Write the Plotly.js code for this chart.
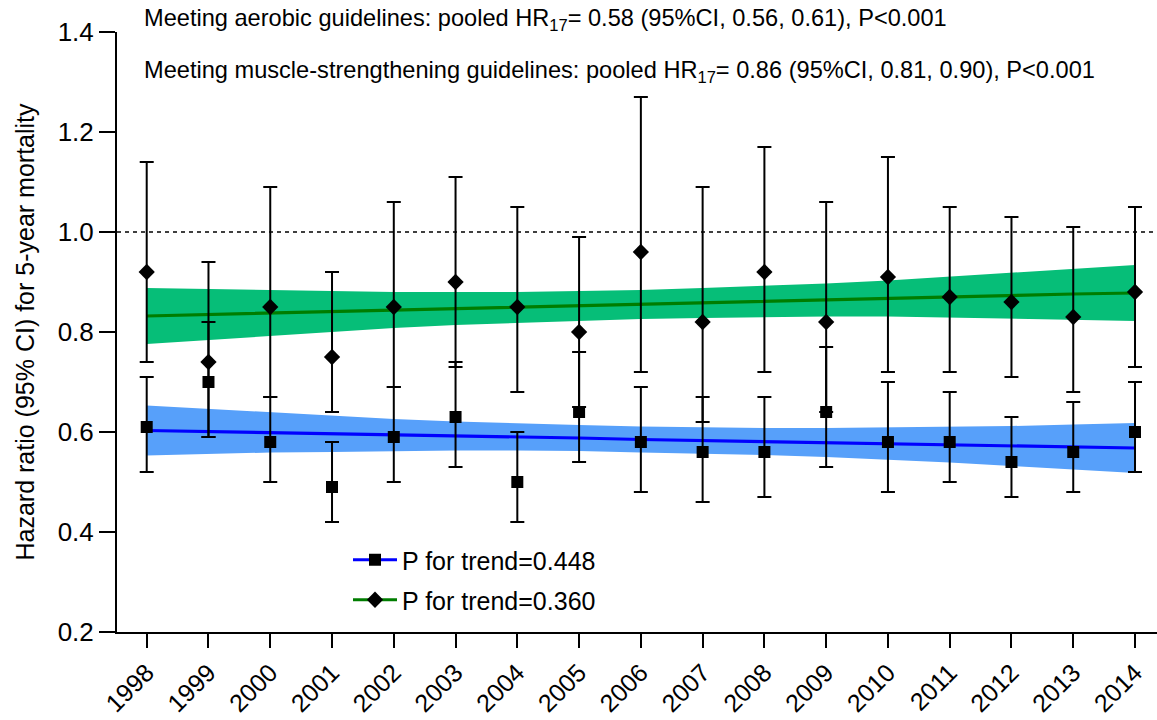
<!DOCTYPE html>
<html>
<head>
<meta charset="utf-8">
<script src="https://cdn.plot.ly/plotly-3.0.1.min.js"></script>
<style>html,body{margin:0;padding:0;background:#fff;}#chart{width:1157px;height:720px;}</style>
</head>
<body>
<div id="chart"></div>
<script>
// ---- data ----
const years = [1998,1999,2000,2001,2002,2003,2004,2005,2006,2007,2008,2009,2010,2011,2012,2013,2014];
const tickLabels = years.map(String);

// Meeting aerobic guidelines (squares)
const aerobicHR    = [0.61,0.70,0.58,0.49,0.59,0.63,0.50,0.64,0.58,0.56,0.56,0.64,0.58,0.58,0.54,0.56,0.60];
const aerobicLower = [0.52,0.59,0.50,0.42,0.50,0.53,0.42,0.54,0.48,0.46,0.47,0.53,0.48,0.50,0.47,0.48,0.52];
const aerobicUpper = [0.71,0.82,0.67,0.58,0.69,0.74,0.60,0.76,0.69,0.67,0.67,0.77,0.70,0.68,0.63,0.66,0.70];

// Meeting muscle-strengthening guidelines (diamonds)
const muscleHR    = [0.92,0.74,0.85,0.75,0.85,0.90,0.85,0.80,0.96,0.82,0.92,0.82,0.91,0.87,0.86,0.83,0.88];
const muscleLower = [0.74,0.59,0.67,0.64,0.69,0.73,0.68,0.65,0.72,0.62,0.72,0.64,0.72,0.72,0.71,0.68,0.73];
const muscleUpper = [1.14,0.94,1.09,0.92,1.06,1.11,1.05,0.99,1.27,1.09,1.17,1.06,1.15,1.05,1.03,1.01,1.05];

// Fitted trend lines and their confidence bands
const aerobicFit      = [0.603,0.601,0.599,0.596,0.594,0.592,0.590,0.588,0.585,0.583,0.581,0.579,0.577,0.575,0.572,0.570,0.568];
const aerobicBandUp   = [0.653,0.646,0.639,0.632,0.626,0.621,0.617,0.614,0.611,0.609,0.608,0.608,0.609,0.611,0.612,0.615,0.618];
const aerobicBandLow  = [0.553,0.556,0.559,0.560,0.562,0.563,0.563,0.562,0.559,0.557,0.554,0.550,0.545,0.539,0.532,0.525,0.518];

const muscleFit      = [0.832,0.835,0.838,0.841,0.844,0.847,0.849,0.852,0.855,0.858,0.861,0.864,0.867,0.870,0.873,0.876,0.878];
const muscleBandUp   = [0.888,0.886,0.884,0.882,0.880,0.880,0.880,0.882,0.884,0.888,0.892,0.897,0.903,0.911,0.919,0.927,0.934];
const muscleBandLow  = [0.776,0.784,0.792,0.800,0.808,0.814,0.818,0.822,0.826,0.828,0.830,0.831,0.831,0.829,0.827,0.825,0.822];

const legendLabels = ['P for trend=0.448', 'P for trend=0.360'];
const headerLines = [
  'Meeting aerobic guidelines: pooled HR<sub>17</sub>= 0.58 (95%CI, 0.56, 0.61), P<0.001',
  'Meeting muscle-strengthening guidelines: pooled HR<sub>17</sub>= 0.86 (95%CI, 0.81, 0.90), P<0.001'
];

// ---- styles ----
const FONT = 'Arial, "Liberation Sans", Helvetica, sans-serif';
const BLUE_BAND = '#57A0FA', BLUE_LINE = '#0000FF';
const GREEN_BAND = '#06BE78', GREEN_LINE = '#007D00';

function diff(a, b) { return a.map((v, i) => +(v - b[i]).toFixed(4)); }

const traces = [
  // bands
  {x: years, y: aerobicBandLow, mode: 'lines', line: {width: 0, color: BLUE_BAND}, showlegend: false, hoverinfo: 'skip'},
  {x: years, y: aerobicBandUp, mode: 'lines', line: {width: 0, color: BLUE_BAND}, fill: 'tonexty', fillcolor: BLUE_BAND, showlegend: false, hoverinfo: 'skip'},
  {x: years, y: muscleBandLow, mode: 'lines', line: {width: 0, color: GREEN_BAND}, showlegend: false, hoverinfo: 'skip'},
  {x: years, y: muscleBandUp, mode: 'lines', line: {width: 0, color: GREEN_BAND}, fill: 'tonexty', fillcolor: GREEN_BAND, showlegend: false, hoverinfo: 'skip'},
  // fit lines
  {x: years, y: aerobicFit, mode: 'lines', line: {width: 3.2, color: BLUE_LINE}, showlegend: false},
  {x: years, y: muscleFit, mode: 'lines', line: {width: 3.2, color: GREEN_LINE}, showlegend: false},
  // points with CIs
  {x: years, y: aerobicHR, mode: 'markers', marker: {symbol: 'square', size: 12, color: '#000'},
   error_y: {type: 'data', symmetric: false, array: diff(aerobicUpper, aerobicHR), arrayminus: diff(aerobicHR, aerobicLower), color: '#000', thickness: 2, width: 7},
   showlegend: false},
  {x: years, y: muscleHR, mode: 'markers', marker: {symbol: 'diamond', size: 12.5, color: '#000'},
   error_y: {type: 'data', symmetric: false, array: diff(muscleUpper, muscleHR), arrayminus: diff(muscleHR, muscleLower), color: '#000', thickness: 2, width: 7},
   showlegend: false},
  // legend entries
  {x: [null], y: [null], name: legendLabels[0], mode: 'lines+markers', line: {color: BLUE_LINE, width: 3.2},
   marker: {symbol: 'square', size: 12, color: '#000'}, legend: 'legend'},
  {x: [null], y: [null], name: legendLabels[1], mode: 'lines+markers', line: {color: GREEN_LINE, width: 3.2},
   marker: {symbol: 'diamond', size: 12.5, color: '#000'}, legend: 'legend2'}
];

const L = 117, W = 1040, T = 32, H = 600;
function px2paperX(px) { return (px - L) / W; }
function px2paperY(py) { return 1 - (py - T) / H; }

const legendCommon = {
  bgcolor: 'rgba(0,0,0,0)', borderwidth: 0, font: {family: FONT, size: 25, color: '#000'},
  xanchor: 'left', yanchor: 'middle', itemwidth: 44
};

const layout = {
  width: 1157, height: 720,
  margin: {l: L, r: 0, t: T, b: 88},
  paper_bgcolor: '#fff', plot_bgcolor: '#fff',
  font: {family: FONT, color: '#000'},
  showlegend: true,
  legend: Object.assign({x: px2paperX(348), y: px2paperY(560)}, legendCommon),
  legend2: Object.assign({x: px2paperX(348), y: px2paperY(600)}, legendCommon),
  xaxis: {
    range: [1997.519, 2014.356], tickmode: 'array', tickvals: years, ticktext: tickLabels,
    tickangle: -45, tickfont: {family: FONT, size: 25, color: '#000'},
    ticks: 'outside', ticklen: 14, tickwidth: 2, tickcolor: '#000',
    showline: true, linecolor: '#000', linewidth: 2, showgrid: false, zeroline: false, fixedrange: true
  },
  yaxis: {
    range: [0.2, 1.4], tickvals: [0.2,0.4,0.6,0.8,1.0,1.2,1.4], ticktext: ['0.2','0.4','0.6','0.8','1.0','1.2','1.4'],
    tickfont: {family: FONT, size: 26, color: '#000'},
    ticks: 'outside', ticklen: 16, tickwidth: 2, tickcolor: '#000',
    showline: true, linecolor: '#000', linewidth: 2, showgrid: false, zeroline: false, fixedrange: true,
    title: {text: 'Hazard ratio (95% CI) for 5-year mortality', font: {family: FONT, size: 25, color: '#000'}, standoff: 16}
  },
  shapes: [
    {type: 'line', xref: 'paper', yref: 'y', x0: 0, x1: 1, y0: 1.0, y1: 1.0,
     line: {color: '#000', width: 1.6, dash: '4px,4px'}}
  ],
  annotations: headerLines.map((t, i) => ({
    text: t, xref: 'paper', yref: 'paper', x: px2paperX(142), y: px2paperY(i === 0 ? 20 : 72),
    xanchor: 'left', yanchor: 'middle', showarrow: false,
    font: {family: FONT, size: 23.6, color: '#000'}
  }))
};

Plotly.newPlot('chart', traces, layout, {displayModeBar: false, staticPlot: true});
</script>
</body>
</html>
